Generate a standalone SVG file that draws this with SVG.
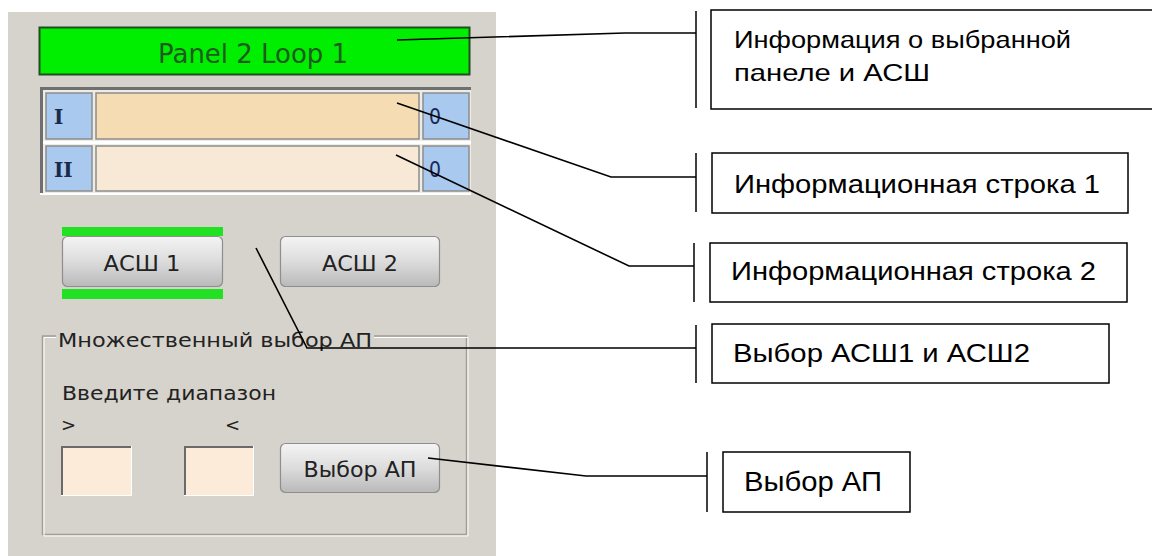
<svg xmlns="http://www.w3.org/2000/svg" width="1152" height="556" viewBox="0 0 1152 556">
<defs>
<linearGradient id="btn" x1="0" y1="0" x2="0" y2="1">
<stop offset="0" stop-color="#f4f4f4"/>
<stop offset="0.5" stop-color="#dcdcdc"/>
<stop offset="1" stop-color="#b9b9b9"/>
</linearGradient>
</defs>
<style>
.ui{font-family:"DejaVu Sans","Noto Sans",sans-serif;fill:#222;}
.cap{font-family:"Liberation Sans",Arial,sans-serif;font-size:26px;fill:#000;}
.box{fill:#fff;stroke:#000;stroke-width:1.5;}
.tick{stroke:#000;stroke-width:1.5;}
.conn{fill:none;stroke:#000;stroke-width:1.6;}
.blue{fill:#a9c9ee;stroke:#8c8c8c;stroke-width:1.5;}
.ser{font-family:"DejaVu Serif","Liberation Serif",serif;fill:#1a2a4a;font-size:20px;}
.num{font-family:"DejaVu Sans",sans-serif;fill:#1a2a5a;font-size:21px;}
.btn{fill:url(#btn);stroke:#8e8e8e;stroke-width:1.2;}
.inp{fill:#fcebd8;}
</style>
<rect width="1152" height="556" fill="#fff"/>

<g id="panel">
<rect x="8" y="12" width="488" height="544" fill="#d6d3cc"/>
</g>

<g id="title-bar">
<rect x="39.5" y="27.5" width="430" height="47" fill="#00ee00" stroke="#1f4f1f" stroke-width="2"/>
<text class="ui" x="158" y="63" font-size="27" style="fill:#1f5a1f" textLength="190" lengthAdjust="spacingAndGlyphs">Panel 2 Loop 1</text>
</g>

<g id="info-rows">
<rect x="40" y="87" width="431" height="108" fill="#eeece6"/>
<rect x="40" y="87" width="431" height="3" fill="#6f6f6f"/>
<rect x="40" y="87" width="3" height="106" fill="#6f6f6f"/>
<rect x="40" y="193" width="431" height="2" fill="#ffffff"/>
<rect x="43" y="141" width="428" height="3" fill="#ffffff"/>
<rect class="blue" x="46" y="93" width="46" height="46"/>
<rect x="96" y="93" width="323" height="46" fill="#f5dcb2" stroke="#8c8c8c" stroke-width="1.5"/>
<rect class="blue" x="423" y="93" width="46" height="46"/>
<rect class="blue" x="46" y="146" width="46" height="45"/>
<rect x="96" y="146" width="323" height="45" fill="#f8e9d7" stroke="#8c8c8c" stroke-width="1.5"/>
<rect class="blue" x="423" y="146" width="46" height="45"/>
<text class="ser" x="54" y="124" font-weight="bold">I</text>
<text class="ser" x="54" y="177" font-weight="bold">II</text>
<text class="num" x="429" y="124" textLength="12" lengthAdjust="spacingAndGlyphs">0</text>
<text class="num" x="429" y="177" textLength="12" lengthAdjust="spacingAndGlyphs">0</text>
</g>

<g id="btn-asw1">
<rect x="62" y="227" width="161" height="9" fill="#22e022"/>
<rect x="62" y="289" width="161" height="10" fill="#22e022"/>
<rect class="btn" x="62.5" y="236.5" width="160" height="50" rx="5"/>
<text class="ui" x="142" y="271" font-size="22" text-anchor="middle" textLength="77" lengthAdjust="spacingAndGlyphs">АСШ 1</text>
</g>

<g id="btn-asw2">
<rect class="btn" x="280.5" y="236.5" width="159" height="50" rx="5"/>
<text class="ui" x="360" y="271" font-size="22" text-anchor="middle" textLength="76" lengthAdjust="spacingAndGlyphs">АСШ 2</text>
</g>

<g id="group-multi">
<path d="M56,336 H42.5 V534.5 H466.5 V336 H374" fill="none" stroke="#a19e97" stroke-width="1.5"/>
<path d="M56,337.5 H44 V536 H468 V337.5 H374" fill="none" stroke="#ffffff" stroke-width="1"/>
<text class="ui" x="58" y="347" font-size="20" textLength="314" lengthAdjust="spacingAndGlyphs">Множественный выбор АП</text>
<text class="ui" x="62" y="400" font-size="20" textLength="214" lengthAdjust="spacingAndGlyphs">Введите диапазон</text>
<text class="ui" x="61" y="431" font-size="18">&gt;</text>
<text class="ui" x="225" y="431" font-size="18">&lt;</text>
<rect class="inp" x="61" y="446" width="70" height="49"/>
<path d="M62,495 V447 H131" fill="none" stroke="#6a6a6a" stroke-width="2"/>
<path d="M61,495.5 H131.5 V446" fill="none" stroke="#ffffff" stroke-width="1"/>
<rect class="inp" x="184" y="446" width="69" height="49"/>
<path d="M185,495 V447 H253" fill="none" stroke="#6a6a6a" stroke-width="2"/>
<path d="M184,495.5 H253.5 V446" fill="none" stroke="#ffffff" stroke-width="1"/>
</g>

<g id="btn-select-ap">
<rect class="btn" x="280.5" y="443.5" width="159" height="49" rx="5"/>
<text class="ui" x="360" y="477" font-size="22" text-anchor="middle" textLength="113" lengthAdjust="spacingAndGlyphs">Выбор АП</text>
</g>

<g id="note-info">
<line class="tick" x1="696" y1="11" x2="696" y2="108"/>
<rect class="box" x="711" y="10" width="460" height="99"/>
<text class="cap" x="734" y="48" style="font-size:24px" textLength="337" lengthAdjust="spacingAndGlyphs">Информация о выбранной</text>
<text class="cap" x="734" y="81" style="font-size:24px" textLength="196" lengthAdjust="spacingAndGlyphs">панеле и АСШ</text>
</g>

<g id="note-row1">
<line class="tick" x1="696" y1="153" x2="696" y2="212"/>
<rect class="box" x="712" y="153" width="416" height="60"/>
<text class="cap" x="734" y="193" textLength="366" lengthAdjust="spacingAndGlyphs">Информационная строка 1</text>
</g>

<g id="note-row2">
<line class="tick" x1="694" y1="243" x2="694" y2="302"/>
<rect class="box" x="710" y="243" width="417" height="59"/>
<text class="cap" x="731" y="280" textLength="365" lengthAdjust="spacingAndGlyphs">Информационная строка 2</text>
</g>

<g id="note-asw">
<line class="tick" x1="696" y1="325" x2="696" y2="383"/>
<rect class="box" x="712" y="324" width="397" height="59"/>
<text class="cap" x="733" y="362" textLength="297" lengthAdjust="spacingAndGlyphs">Выбор АСШ1 и АСШ2</text>
</g>

<g id="note-ap">
<line class="tick" x1="707" y1="452" x2="707" y2="512"/>
<rect class="box" x="723" y="452" width="187" height="60"/>
<text class="cap" x="744" y="491" style="font-size:27px" textLength="138" lengthAdjust="spacingAndGlyphs">Выбор АП</text>
</g>

<g id="connectors">
<path class="conn" d="M397,40 L625,33 L696,33"/>
<path class="conn" d="M397,103 L611,177 L696,177"/>
<path class="conn" d="M396,155 L629,266 L694,266"/>
<path class="conn" d="M256,248 L307,348 L696,348"/>
<path class="conn" d="M428,458 L586,476 L707,476"/>
</g>
</svg>
